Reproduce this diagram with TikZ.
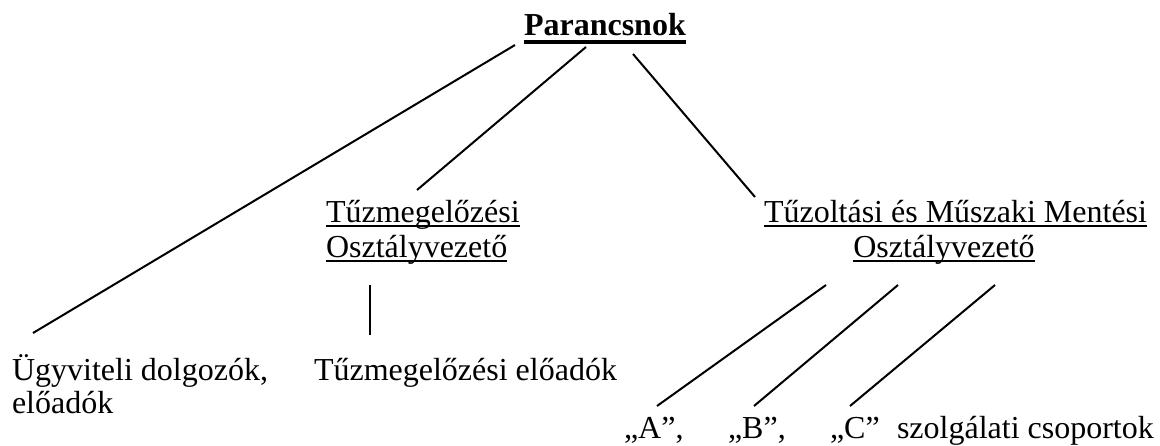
\documentclass[tikz,border=0pt]{standalone}
\usepackage{fontspec}
\setmainfont{Liberation Serif}
\usepackage{tikz}
\usetikzlibrary{positioning}

% underline at a fixed depth, through the descenders
\newcommand\ulin[1]{\setbox0\hbox{#1}\rlap{\rule[-2.4pt]{\wd0}{0.9pt}}\box0}
\newcommand\ulbold[1]{\setbox0\hbox{#1}\rlap{\rule[-4.6pt]{\wd0}{2pt}}\box0}

\begin{document}
\begin{tikzpicture}[x=0.5pt, y=-0.5pt, line width=1pt,
  every node/.style={inner sep=0pt, font=\fontsize{16}{18}\selectfont},
  lbl/.style={anchor=base west}]
            \useasboundingbox (0,0) rectangle (1160,445);

            \node[lbl, font=\fontsize{16}{18}\selectfont\bfseries] (parancs) at (523,35) {\ulbold{Parancsnok}};

            \node[lbl] (tmeg) at (325,222) {\ulin{Tűzmegelőzési}};
            \node[lbl] (tmegov) at (325,257) {\ulin{Osztályvezető}};
            \node[lbl] (tmm) at (763,222) {\ulin{Tűzoltási és Műszaki Mentési}};
            \node[anchor=base] (tmmov) at (944,257) {\ulin{Osztályvezető}};

            \node[lbl] (ugyv) at (11,380) {Ügyviteli dolgozók,};
            \node[lbl] (ugyveloa) at (11,413) {előadók};
            \node[lbl] (tmegeloa) at (313,380) {Tűzmegelőzési előadók};

            \node[lbl] (grpA) at (623,438) {„A”,};
            \node[lbl] (grpB) at (727,438) {„B”,};
            \node[lbl] (grpC) at (829,438) {„C”};
            \node[lbl] (csop) at (896,438) {szolgálati csoportok};

            % line ends
            \coordinate (pL) at (515,45);
            \coordinate (pM) at (586,47);
            \coordinate (pR) at (633,54);
            \coordinate (ugyvT) at (33,333);
            \coordinate (tmegT) at (417,190);
            \coordinate (tmmT) at (755,197);
            \coordinate (tmegB) at (370,285);
            \coordinate (tmegeloaT) at (370,335);
            \coordinate (tmmA) at (826,285);
            \coordinate (tmmB) at (898,285);
            \coordinate (tmmC) at (995,285);
            \coordinate (grpAT) at (657,406);
            \coordinate (grpBT) at (754,406);
            \coordinate (grpCT) at (850,406);

            \draw (pL) -- (ugyvT);
            \draw (pM) -- (tmegT);
            \draw (pR) -- (tmmT);
            \draw (tmegB) -- (tmegeloaT);
            \draw (tmmA) -- (grpAT);
            \draw (tmmB) -- (grpBT);
            \draw (tmmC) -- (grpCT);
          \end{tikzpicture}
\end{document}
